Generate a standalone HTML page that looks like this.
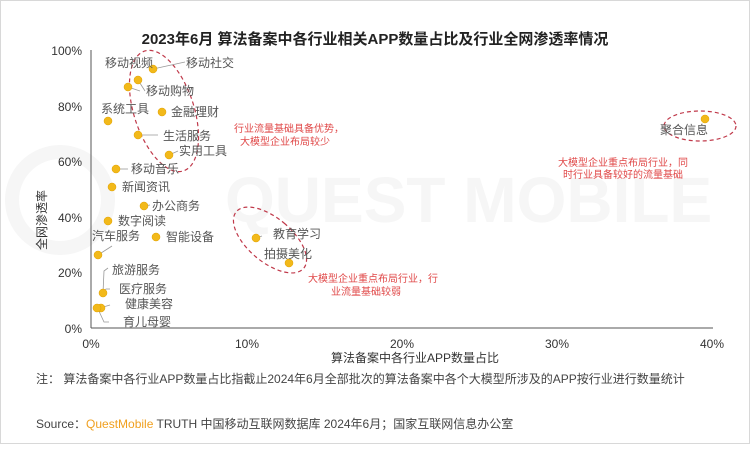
<!DOCTYPE html>
<html><head><meta charset="utf-8"><style>
html,body{margin:0;padding:0;background:#fff}
body{width:750px;height:444px;overflow:hidden}
svg text{font-family:"Liberation Sans","Noto Sans CJK SC",sans-serif}
</style></head><body>
<svg width="750" height="444" viewBox="0 0 750 444" xmlns="http://www.w3.org/2000/svg">
<rect x="0.5" y="0.5" width="749" height="443" fill="#fff" stroke="#d8d8d8"/>
<!-- watermark -->
<circle cx="60" cy="200" r="48" fill="none" stroke="#f6f6f6" stroke-width="14"/>
<text x="225" y="222" font-size="64" fill="#f6f6f6" font-weight="bold">QUEST MOBILE</text>
<text x="375" y="44" font-size="15" font-weight="bold" fill="#222" text-anchor="middle">2023年6月 算法备案中各行业相关APP数量占比及行业全网渗透率情况</text>
<!-- axes -->
<line x1="91" y1="50" x2="91" y2="328" stroke="#555" stroke-width="1"/>
<line x1="91" y1="328" x2="713" y2="328" stroke="#555" stroke-width="1"/>
<g font-size="12" fill="#333" text-anchor="end">
<text x="82" y="55">100%</text><text x="82" y="111">80%</text><text x="82" y="166">60%</text>
<text x="82" y="222">40%</text><text x="82" y="277">20%</text><text x="82" y="333">0%</text>
</g>
<g font-size="12" fill="#333" text-anchor="middle">
<text x="91" y="348">0%</text><text x="247" y="348">10%</text><text x="402" y="348">20%</text>
<text x="557" y="348">30%</text><text x="712" y="348">40%</text>
</g>
<text x="415" y="362" font-size="12" fill="#333" text-anchor="middle">算法备案中各行业APP数量占比</text>
<text transform="translate(46,220) rotate(-90)" font-size="12" fill="#333" text-anchor="middle">全网渗透率</text>
<!-- ellipses -->
<g fill="none" stroke="#c0394a" stroke-width="1.2" stroke-dasharray="4,3">
<ellipse cx="164" cy="111" rx="30" ry="63" transform="rotate(-18 164 111)"/>
<ellipse cx="270" cy="240" rx="22" ry="44" transform="rotate(-50 270 240)"/>
<ellipse cx="700" cy="126" rx="36" ry="15"/>
</g>
<!-- leader lines -->
<g stroke="#999" stroke-width="0.8" fill="none">
<line x1="153" y1="69" x2="185" y2="62"/>
<line x1="138" y1="80" x2="145" y2="91"/>
<line x1="128" y1="87" x2="140" y2="91"/>
<line x1="138" y1="135" x2="158" y2="135"/>
<line x1="169" y1="155" x2="178" y2="151"/>
<line x1="116" y1="169" x2="128" y2="169"/>
<line x1="144" y1="206" x2="150" y2="205"/>
<line x1="98" y1="255" x2="112" y2="246"/>
<polyline points="103,293 104,271 108,268"/>
<polyline points="103,293 106,289 110,289"/>
<line x1="100" y1="308" x2="110" y2="305"/>
<polyline points="98,309 104,322 109,322"/>
<line x1="256" y1="238" x2="262" y2="236"/>
</g>
<!-- dots -->
<g fill="#f2b91a" stroke="#e0a000" stroke-width="0.5">
<circle cx="153" cy="69" r="4"/><circle cx="138" cy="80" r="4"/><circle cx="128" cy="87" r="4"/>
<circle cx="162" cy="112" r="4"/><circle cx="108" cy="121" r="4"/><circle cx="138" cy="135" r="4"/>
<circle cx="169" cy="155" r="4"/><circle cx="116" cy="169" r="4"/><circle cx="112" cy="187" r="4"/>
<circle cx="144" cy="206" r="4"/><circle cx="108" cy="221" r="4"/><circle cx="156" cy="237" r="4"/>
<circle cx="98" cy="255" r="4"/><circle cx="103" cy="293" r="4"/><circle cx="101" cy="308" r="4"/>
<circle cx="97" cy="308" r="4"/><circle cx="256" cy="238" r="4"/><circle cx="289" cy="263" r="4"/>
<circle cx="705" cy="119" r="4"/>
</g>
<!-- labels -->
<g font-size="12" fill="#555">
<text x="105" y="67">移动视频</text>
<text x="186" y="67">移动社交</text>
<text x="146" y="95">移动购物</text>
<text x="171" y="116">金融理财</text>
<text x="101" y="113">系统工具</text>
<text x="163" y="140">生活服务</text>
<text x="179" y="155">实用工具</text>
<text x="131" y="173">移动音乐</text>
<text x="122" y="191">新闻资讯</text>
<text x="152" y="210">办公商务</text>
<text x="118" y="225">数字阅读</text>
<text x="166" y="241">智能设备</text>
<text x="92" y="240">汽车服务</text>
<text x="112" y="274">旅游服务</text>
<text x="119" y="293">医疗服务</text>
<text x="125" y="308">健康美容</text>
<text x="123" y="326">育儿母婴</text>
<text x="273" y="238">教育学习</text>
<text x="264" y="258">拍摄美化</text>
<text x="660" y="134">聚合信息</text>
</g>
<g font-size="10" fill="#e04848" text-anchor="middle">
<text x="289" y="132">行业流量基础具备优势，</text>
<text x="285" y="145">大模型企业布局较少</text>
<text x="623" y="166">大模型企业重点布局行业，同</text>
<text x="623" y="178">时行业具备较好的流量基础</text>
<text x="373" y="282">大模型企业重点布局行业，行</text>
<text x="366" y="295">业流量基础较弱</text>
</g>
<text x="36" y="383" font-size="12" fill="#444">注：  算法备案中各行业APP数量占比指截止2024年6月全部批次的算法备案中各个大模型所涉及的APP按行业进行数量统计</text>
<text x="36" y="428" font-size="12" fill="#444">Source：<tspan fill="#f0a020">QuestMobile</tspan> TRUTH 中国移动互联网数据库 2024年6月；国家互联网信息办公室</text>
</svg>
</body></html>
